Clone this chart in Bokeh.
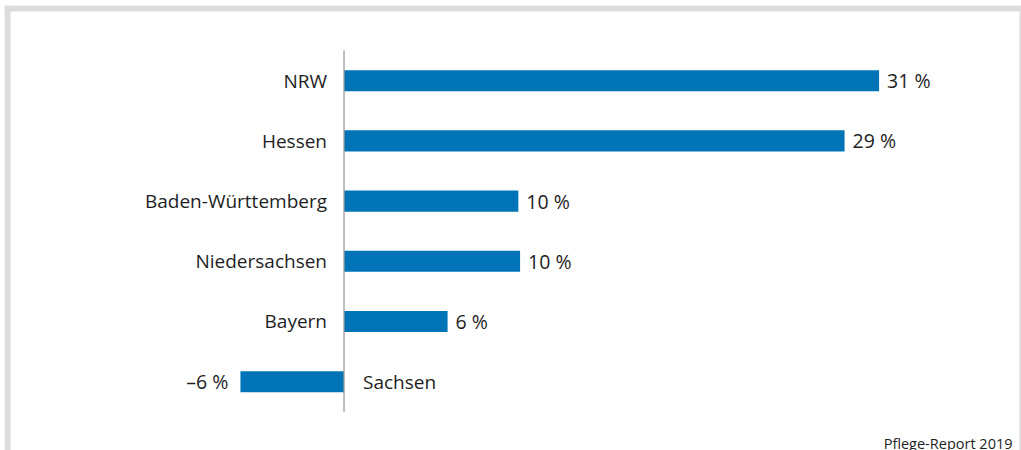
from bokeh.plotting import figure
from bokeh.models import Range1d, ColumnDataSource, Label, Span
from bokeh.core.properties import value
from bokeh.embed import file_html
from bokeh.resources import INLINE

# ---- data ----
states = ["NRW", "Hessen", "Baden-Württemberg", "Niedersachsen", "Bayern", "Sachsen"]
changes = [31, 29, 10.1, 10.2, 6, -6]
source_note = "Pflege-Report 2019"

FONT = "Open Sans"
TXT = "#1e1e1e"
BLUE = "#0074b7"
FRAME = "#dcdcdc"

idx = list(range(len(states)))
def fmt(v):
    r = int(round(v))
    return ("\u2013%d %%" % abs(r)) if r < 0 else ("%d %%" % r)

pos = [i for i in idx if changes[i] >= 0]
neg = [i for i in idx if changes[i] < 0]

src_pos = ColumnDataSource(dict(y=pos, v=[changes[i] for i in pos],
                                lab=[fmt(changes[i]) for i in pos],
                                name=[states[i] for i in pos], zero=[0]*len(pos)))
src_neg = ColumnDataSource(dict(y=neg, v=[changes[i] for i in neg],
                                lab=[fmt(changes[i]) for i in neg],
                                name=[states[i] for i in neg], zero=[0]*len(neg)))

p = figure(width=1021, height=450, output_backend="svg", toolbar_location=None,
           x_range=Range1d(-19.67, 39.25), y_range=Range1d(6.143, -1.249),
           x_axis_location=None, y_axis_location=None,
           min_border_left=4, min_border_right=0, min_border_top=5, min_border_bottom=0)
p.border_fill_color = "white"
p.background_fill_color = "white"
p.outline_line_color = None
p.xgrid.visible = False
p.ygrid.visible = False

# frame border on three sides (screen units)
p.add_layout(Span(location=3, location_units="screen", dimension="height",
                  line_color=FRAME, line_width=6))
p.add_layout(Span(location=1018, location_units="screen", dimension="height",
                  line_color=FRAME, line_width=6))
p.add_layout(Span(location=442, location_units="screen", dimension="width",
                  line_color=FRAME, line_width=6))

# bars
p.hbar(y="y", left="zero", right="v", height=0.35, source=src_pos,
       fill_color=BLUE, line_color=None)
p.hbar(y="y", left="v", right="zero", height=0.35, source=src_neg,
       fill_color=BLUE, line_color=None)

# zero axis line
p.segment(x0=[0], y0=[idx[0] - 0.5], x1=[0], y1=[idx[-1] + 0.5],
          line_color="#9a9a9a", line_width=1.3)

# category labels
p.text(x="zero", y="y", text="name", source=src_pos, text_align="right",
       text_baseline="middle", x_offset=-17, text_font=value(FONT),
       text_font_size="19px", text_color=TXT)
p.text(x="zero", y="y", text="name", source=src_neg, text_align="left",
       text_baseline="middle", x_offset=19, text_font=value(FONT),
       text_font_size="19px", text_color=TXT)

# value labels
p.text(x="v", y="y", text="lab", source=src_pos, text_align="left",
       text_baseline="middle", x_offset=8, text_font=value(FONT),
       text_font_size="19.5px", text_color=TXT)
p.text(x="v", y="y", text="lab", source=src_neg, text_align="right",
       text_baseline="middle", x_offset=-12, text_font=value(FONT),
       text_font_size="19.5px", text_color=TXT)

p.add_layout(Label(x=1008, y=7, x_units="screen", y_units="screen", text=source_note,
                   text_align="right", text_baseline="alphabetic",
                   text_font=FONT, text_font_size="14.5px", text_color=TXT))

open("out.html", "w").write(file_html(p, INLINE))
